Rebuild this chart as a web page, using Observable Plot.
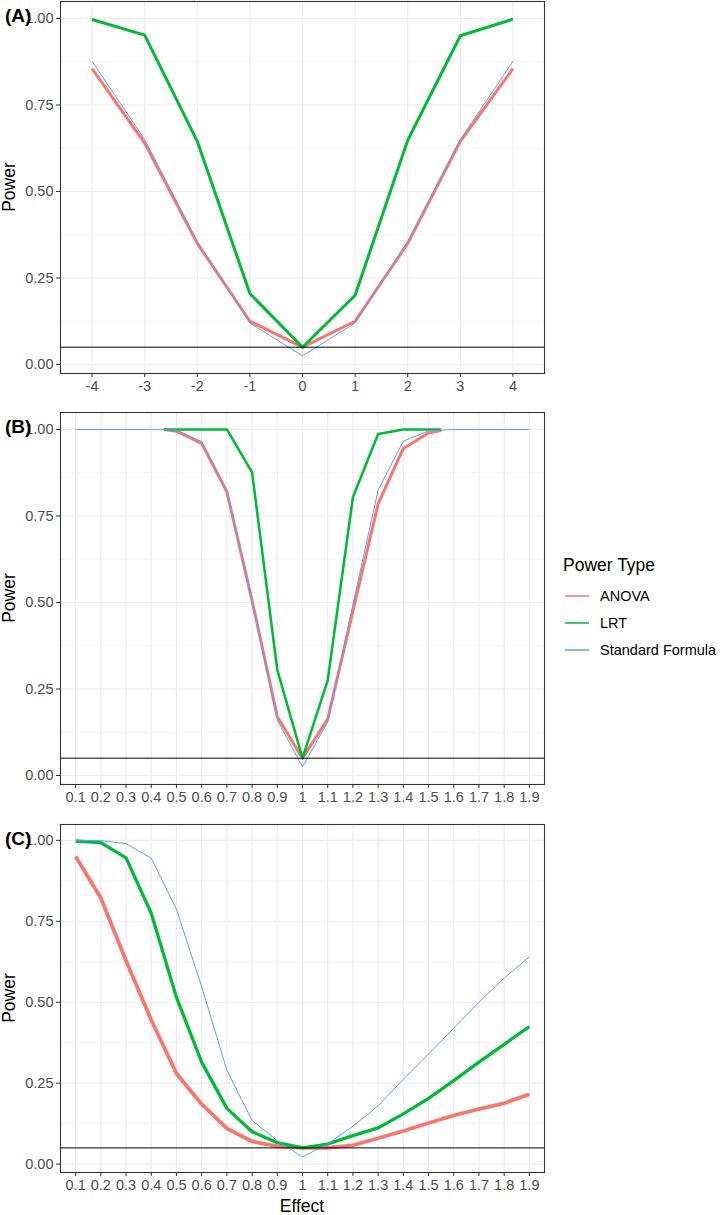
<!DOCTYPE html>
<html>
<head>
<meta charset="utf-8">
<script src="https://cdn.jsdelivr.net/npm/d3@7"></script>
<script src="https://cdn.jsdelivr.net/npm/@observablehq/plot@0.6"></script>
<style>
  body { margin: 0; background: #fff; font-family: "Liberation Sans", Arial, sans-serif; }
  #chart { position: relative; width: 722px; height: 1215px; overflow: hidden; background: #fff; }
  .panel { position: absolute; left: 0; }
  .tag { position: absolute; left: 5px; font-weight: bold; font-size: 19px; line-height: 19px; color: #000; }
  .ytitle { position: absolute; width: 120px; text-align: center; font-size: 17.5px; line-height: 18px;
            color: #000; transform: rotate(-90deg); white-space: nowrap; }
  .xtitle { position: absolute; width: 200px; text-align: center; font-size: 17.5px; line-height: 18px; color: #000; }
  .legend-title { position: absolute; left: 563px; top: 556px; font-size: 17.5px; line-height: 18px; color: #000; }
  .key { position: absolute; left: 564px; }
  .key-label { position: absolute; left: 600px; font-size: 14.5px; line-height: 16px; color: #000; white-space: nowrap; }
</style>
</head>
<body>
<div id="chart"></div>
<script>
// Series names and colours
const powerTypes = ["ANOVA", "LRT", "Standard Formula"];
const typeColors = ["#F8766D", "#00BA38", "#619CFF"];
const typeWidths = [3, 3, 1];

// (A) effect on the -4..4 scale
const effectA = [-4, -3, -2, -1, 0, 1, 2, 3, 4];
const tickLabelsA = ["-4", "-3", "-2", "-1", "0", "1", "2", "3", "4"];
const anovaA   = [0.855, 0.640, 0.350, 0.125, 0.050, 0.125, 0.350, 0.645, 0.855];
const lrtA     = [0.997, 0.952, 0.645, 0.205, 0.050, 0.200, 0.648, 0.950, 0.998];
const formulaA = [0.876, 0.650, 0.356, 0.120, 0.025, 0.120, 0.356, 0.650, 0.876];

// (B) ratio effect 0.1..1.9
const effectB = [0.1, 0.2, 0.3, 0.4, 0.5, 0.6, 0.7, 0.8, 0.9, 1.0, 1.1, 1.2, 1.3, 1.4, 1.5, 1.6, 1.7, 1.8, 1.9];
const tickLabelsB = ["0.1", "0.2", "0.3", "0.4", "0.5", "0.6", "0.7", "0.8", "0.9", "1", "1.1", "1.2", "1.3", "1.4", "1.5", "1.6", "1.7", "1.8", "1.9"];
const formulaB = [1, 1, 1, 1, 0.998, 0.965, 0.823, 0.505, 0.160, 0.025, 0.155, 0.495, 0.825, 0.966, 0.996, 1, 1, 1, 1];
const effectBSim = [0.45, 0.5, 0.6, 0.7, 0.8, 0.9, 1.0, 1.1, 1.2, 1.3, 1.4, 1.5, 1.55];
const anovaB = [1, 0.995, 0.960, 0.820, 0.505, 0.170, 0.050, 0.163, 0.475, 0.785, 0.945, 0.990, 0.997];
const lrtB   = [1, 1, 1, 1, 0.876, 0.305, 0.050, 0.275, 0.804, 0.987, 1, 1, 1];

// (C) ratio effect 0.1..1.9
const effectC = effectB;
const tickLabelsC = tickLabelsB;
const anovaC   = [0.950, 0.822, 0.628, 0.445, 0.280, 0.185, 0.110, 0.070, 0.055, 0.050, 0.050, 0.058, 0.080, 0.102, 0.127, 0.150, 0.170, 0.188, 0.216];
const lrtC     = [0.998, 0.993, 0.946, 0.775, 0.515, 0.315, 0.172, 0.100, 0.066, 0.050, 0.062, 0.088, 0.112, 0.155, 0.203, 0.258, 0.315, 0.370, 0.425];
const formulaC = [1, 0.999, 0.990, 0.945, 0.787, 0.548, 0.290, 0.135, 0.072, 0.022, 0.062, 0.117, 0.180, 0.262, 0.340, 0.420, 0.500, 0.575, 0.640];

// Reference level (nominal alpha)
const alphaLevel = 0.05;

const yTicks = [0, 0.25, 0.5, 0.75, 1];
const yMinor = [0.125, 0.375, 0.625, 0.875];

const chart = document.getElementById("chart");

function rows(xs, ys, type) {
  return xs.map((x, i) => ({effect: x, power: ys[i], type}));
}

function drawPanel({tag, top, frameHeight, xDomain, xTicks, xLabels, series}) {
  const labelOf = new Map(xTicks.map((t, i) => [t, xLabels[i]]));
  const marginTop = 1, marginBottom = 26;
  const lineMarks = series.map((s, k) =>
    Plot.line(rows(s.x, s.y, powerTypes[k]), {
      x: "effect", y: "power",
      stroke: typeColors[k], strokeWidth: typeWidths[k] * (s.w || 1),
      strokeLinejoin: "round", strokeLinecap: "butt"
    })
  );
  const svg = Plot.plot({
    width: 548,
    height: marginTop + frameHeight + marginBottom,
    marginTop, marginBottom, marginLeft: 60, marginRight: 4,
    style: {fontFamily: '"Liberation Sans", Arial, sans-serif', fontSize: "14.5px", color: "#4D4D4D", background: "white", overflow: "visible"},
    x: {type: "linear", domain: xDomain},
    y: {type: "linear", domain: [-0.026, 1.049]},
    marks: [
      Plot.ruleY(yMinor, {stroke: "#EBEBEB", strokeWidth: 0.6}),
      Plot.ruleY(yTicks, {stroke: "#EBEBEB", strokeWidth: 1.1}),
      Plot.ruleX(xTicks, {stroke: "#EBEBEB", strokeWidth: 1.1}),
      ...lineMarks,
      Plot.ruleY([alphaLevel], {stroke: "#000", strokeWidth: 1}),
      Plot.frame({stroke: "#333333", strokeWidth: 1.1}),
      Plot.axisX(xTicks, {tickSize: 4, tickPadding: 3, tickFormat: d => labelOf.get(d), label: null, stroke: "#333333", fill: "#4D4D4D"}),
      Plot.axisY(yTicks, {tickSize: 4, tickPadding: 3, tickFormat: d3.format(".2f"), label: null, stroke: "#333333", fill: "#4D4D4D"})
    ]
  });
  svg.classList.add("panel");
  svg.style.top = top + "px";
  chart.appendChild(svg);

  const t = document.createElement("div");
  t.className = "tag";
  t.textContent = tag;
  t.style.top = (top + 6) + "px";
  chart.appendChild(t);

  const yt = document.createElement("div");
  yt.className = "ytitle";
  yt.textContent = "Power";
  const cy = top + marginTop + frameHeight / 2;
  yt.style.left = (9 - 60) + "px";
  yt.style.top = (cy - 9) + "px";
  chart.appendChild(yt);
}

drawPanel({
  tag: "(A)", top: 0, frameHeight: 372,
  xDomain: [-4.6, 4.6], xTicks: effectA, xLabels: tickLabelsA,
  series: [{x: effectA, y: anovaA}, {x: effectA, y: lrtA}, {x: effectA, y: formulaA}]
});
drawPanel({
  tag: "(B)", top: 411, frameHeight: 372,
  xDomain: [0.04, 1.96], xTicks: effectB, xLabels: tickLabelsB,
  series: [{x: effectBSim, y: anovaB}, {x: effectBSim, y: lrtB, w: 0.85}, {x: effectB, y: formulaB}]
});
drawPanel({
  tag: "(C)", top: 823, frameHeight: 348,
  xDomain: [0.04, 1.96], xTicks: effectC, xLabels: tickLabelsC,
  series: [{x: effectC, y: anovaC, w: 1.25}, {x: effectC, y: lrtC, w: 1.1}, {x: effectC, y: formulaC}]
});

// x-axis title under the last panel
const xt = document.createElement("div");
xt.className = "xtitle";
xt.textContent = "Effect";
xt.style.left = (302 - 100) + "px";
xt.style.top = "1197px";
chart.appendChild(xt);

// Legend: title, key lines and labels
const lt = document.createElement("div");
lt.className = "legend-title";
lt.textContent = "Power Type";
chart.appendChild(lt);
const keyY = [596, 623, 650];
const ns = "http://www.w3.org/2000/svg";
powerTypes.forEach((name, i) => {
  const k = document.createElementNS(ns, "svg");
  k.setAttribute("class", "key");
  k.setAttribute("width", "26");
  k.setAttribute("height", "6");
  k.style.top = (keyY[i] - 3) + "px";
  const ln = document.createElementNS(ns, "line");
  ln.setAttribute("x1", "1"); ln.setAttribute("x2", "25");
  ln.setAttribute("y1", "3"); ln.setAttribute("y2", "3");
  ln.setAttribute("stroke", typeColors[i]);
  ln.setAttribute("stroke-width", "1.5");
  k.appendChild(ln);
  chart.appendChild(k);
  const l = document.createElement("div");
  l.className = "key-label";
  l.textContent = name;
  l.style.top = (keyY[i] - 8) + "px";
  chart.appendChild(l);
});
</script>
</body>
</html>
